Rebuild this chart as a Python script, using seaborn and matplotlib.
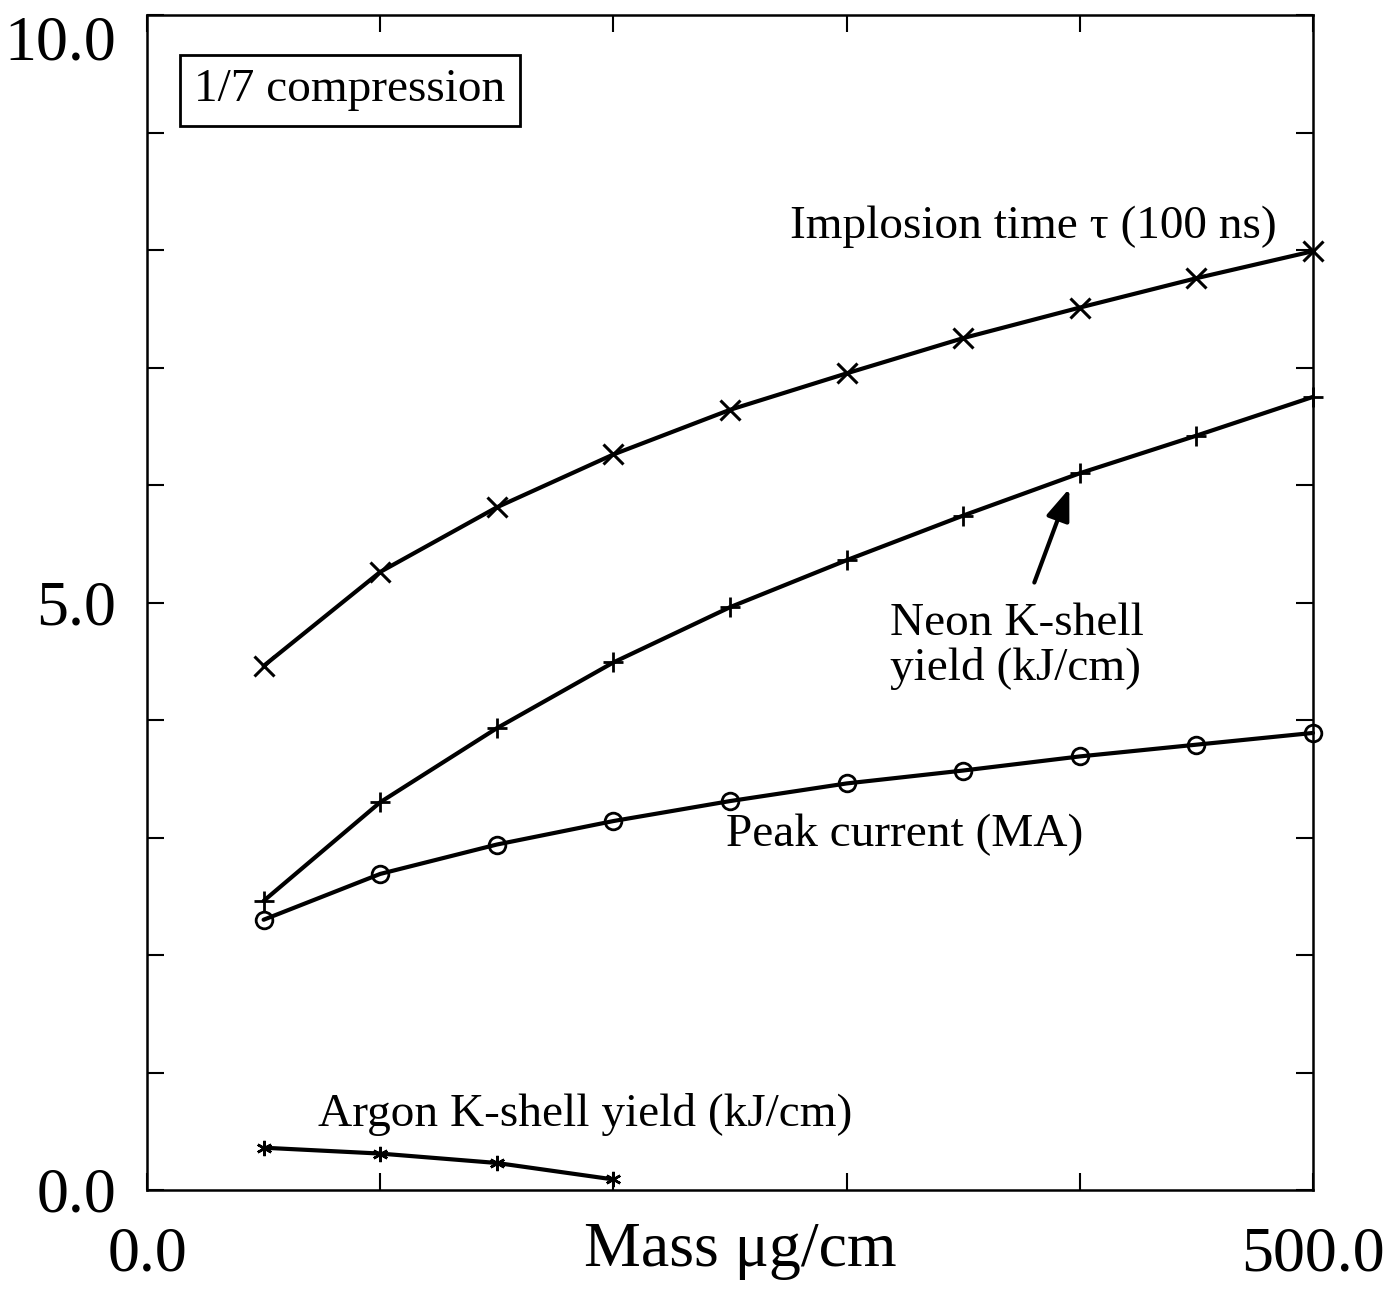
import matplotlib
matplotlib.use("Agg")
import matplotlib.pyplot as plt
import seaborn as sns
import pandas as pd
from matplotlib.ticker import MultipleLocator, FixedLocator

# ---- data ----
mass = [50, 100, 150, 200, 250, 300, 350, 400, 450, 500]
implosion_time = [4.46, 5.26, 5.81, 6.26, 6.64, 6.95, 7.25, 7.51, 7.76, 7.99]
neon_yield = [2.46, 3.30, 3.93, 4.49, 4.96, 5.36, 5.74, 6.10, 6.42, 6.75]
peak_current = [2.30, 2.69, 2.94, 3.14, 3.31, 3.46, 3.57, 3.69, 3.79, 3.89]
argon_mass = [50, 100, 150, 200]
argon_yield = [0.36, 0.31, 0.23, 0.09]

x_tick_labels = ["0.0", "500.0"]
y_tick_labels = ["0.0", "5.0", "10.0"]

sns.set_theme(style="white")
plt.rcParams["font.family"] = ["Liberation Serif", "DejaVu Serif"]

fig = plt.figure(figsize=(13.98, 12.90), dpi=100)
ax = fig.add_axes([147 / 1398, 100 / 1290, (1313 - 147) / 1398, (1190 - 15) / 1290])

lw = 3.0
common = dict(color="black", linewidth=lw, ax=ax, legend=False, clip_on=False,
              markeredgecolor="black")

df_imp = pd.DataFrame({"mass": mass, "val": implosion_time})
sns.lineplot(data=df_imp, x="mass", y="val", marker="x", markersize=14,
             markeredgewidth=2.2, **common)

df_neon = pd.DataFrame({"mass": mass, "val": neon_yield})
sns.lineplot(data=df_neon, x="mass", y="val", marker="+", markersize=15,
             markeredgewidth=2.0, **common)

df_peak = pd.DataFrame({"mass": mass, "val": peak_current})
sns.lineplot(data=df_peak, x="mass", y="val", marker="o", markersize=12,
             markeredgewidth=2.0, markerfacecolor="none", **common)

df_ar = pd.DataFrame({"mass": argon_mass, "val": argon_yield})
sns.lineplot(data=df_ar, x="mass", y="val", marker=(6, 2, 0), markersize=11,
             markeredgewidth=1.8, **common)

ax.set_xlim(0, 500)
ax.set_ylim(0, 10)

# ticks
ax.xaxis.set_major_locator(FixedLocator([0, 500]))
ax.set_xticklabels(x_tick_labels)
ax.xaxis.set_minor_locator(FixedLocator([100, 200, 300, 400]))
ax.yaxis.set_major_locator(FixedLocator([0, 5, 10]))
ax.set_yticklabels(y_tick_labels)
ax.yaxis.set_minor_locator(MultipleLocator(1))

ax.tick_params(axis="both", which="both", direction="in", top=True, right=True,
               bottom=True, left=True, width=1.5, color="black")
ax.tick_params(axis="both", which="major", length=12, labelsize=46,
               labelcolor="black")
ax.tick_params(axis="both", which="minor", length=12)
ax.tick_params(axis="x", which="major", pad=26)
ax.tick_params(axis="y", which="major", pad=22)

ylabels = ax.get_yticklabels()
ylabels[2].set_va("top")

for sp in ax.spines.values():
    sp.set_visible(True)
    sp.set_color("black")
    sp.set_linewidth(1.8)

ax.set_ylabel("")
ax.set_xlabel("Mass μg/cm", fontsize=46, color="black")
ax.xaxis.set_label_coords((740 - 147) / (1313 - 147), -(1222 - 1190) / (1190 - 15))

# annotations
fs = 34
ax.text(380, 8.20, "Implosion time τ (100 ns)", fontsize=fs, ha="center",
        va="center", color="black")
ax.text(318.5, 4.63, "Neon K-shell\nyield (kJ/cm)", fontsize=fs, ha="left",
        va="center", linespacing=1.05, color="black")
ax.annotate("", xy=(395.5, 5.97), xytext=(380.5, 5.17),
            arrowprops=dict(arrowstyle="-|>,head_length=1.6,head_width=0.6",
                            color="black", lw=3.0, shrinkA=0, shrinkB=0))
ax.text(325, 3.02, "Peak current (MA)", fontsize=fs, ha="center", va="center",
        color="black")
ax.text(188, 0.64, "Argon K-shell yield (kJ/cm)", fontsize=fs, ha="center",
        va="center", color="black")
ax.text(87, 9.36, "1/7 compression", fontsize=fs, ha="center", va="center",
        color="black",
        bbox=dict(boxstyle="square,pad=0.3", facecolor="white",
                  edgecolor="black", linewidth=2))

fig.savefig("out.png", dpi=100, facecolor="white")
